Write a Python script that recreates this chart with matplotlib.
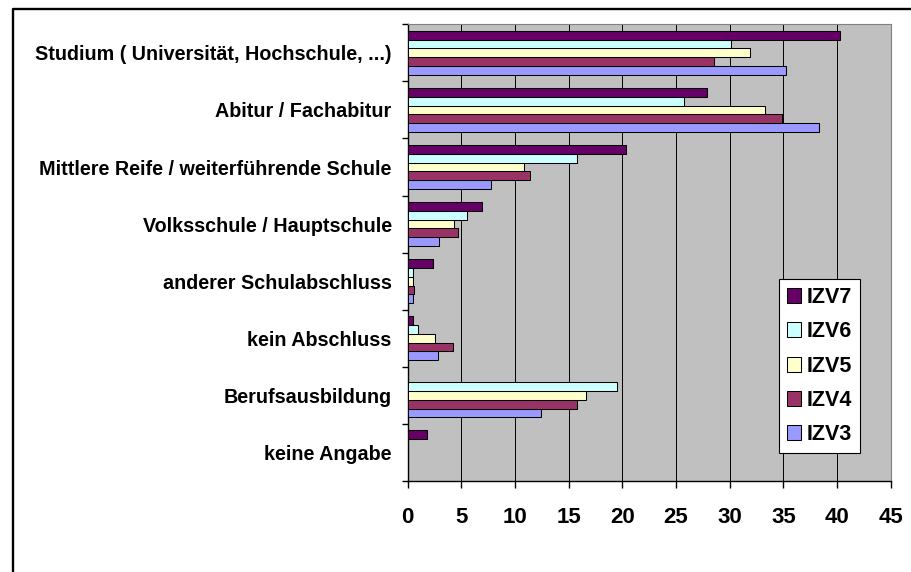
import matplotlib
matplotlib.use('Agg')
import matplotlib.pyplot as plt
from matplotlib.lines import Line2D
import numpy as np

plt.rcParams['font.family'] = ['Liberation Sans', 'DejaVu Sans']
plt.rcParams['font.weight'] = 'bold'

# categories from top to bottom
categories = ['Studium ( Universität, Hochschule, ...)', 'Abitur / Fachabitur',
              'Mittlere Reife / weiterführende Schule', 'Volksschule / Hauptschule',
              'anderer Schulabschluss', 'kein Abschluss', 'Berufsausbildung', 'keine Angabe']
izv7 = [40.3, 27.9, 20.3, 6.9, 2.4, 0.5, 0, 1.8]
izv6 = [30.1, 25.7, 15.8, 5.5, 0.5, 1.0, 19.5, 0]
izv5 = [31.9, 33.3, 10.8, 4.3, 0.5, 2.5, 16.6, 0]
izv4 = [28.5, 34.9, 11.4, 4.7, 0.6, 4.2, 15.8, 0]
izv3 = [35.2, 38.3, 7.8, 2.9, 0.5, 2.8, 12.4, 0]
series_names = ['IZV3', 'IZV4', 'IZV5', 'IZV6', 'IZV7']
series_vals = [izv3, izv4, izv5, izv6, izv7]
colors = ['#9999FF', '#993366', '#FFFFCC', '#CCFFFF', '#660066']
xticks = [0, 5, 10, 15, 20, 25, 30, 35, 40, 45]

W, H = 911, 572
fig = plt.figure(figsize=(W / 100, H / 100), dpi=100)
ax = fig.add_axes([407.7 / W, 1 - 481 / H, (890.7 - 407.7) / W, (481 - 24.3) / H])
ax.set_facecolor('#C0C0C0')

n = len(categories)
ypos = np.arange(n)[::-1]  # top category at the top
h = 1 / 1.3 / 5
bars = []
for j, (name, vals) in enumerate(zip(series_names, series_vals)):
    b = ax.barh(ypos + (j - 2) * h, vals, height=h, color=colors[j],
                edgecolor='black', linewidth=0.75, label=name, zorder=3)
    bars.append(b)

ax.set_xlim(0, 45)
ax.set_ylim(-0.5, n - 0.5)

ax.set_xticks(xticks)
ax.set_xticklabels([str(t) for t in xticks], fontsize=16, fontweight='bold')
ax.tick_params(axis='x', direction='out', length=5, width=1, pad=14, color='black')
ax.xaxis.grid(True, color='black', linewidth=0.7, zorder=1)
ax.set_axisbelow(True)

ax.set_yticks(np.arange(n + 1) - 0.5)
ax.set_yticklabels([])
ax.set_yticks(ypos, minor=True)
ax.set_yticklabels(categories, minor=True, fontsize=14.2, fontweight='bold')
ax.tick_params(axis='y', which='major', direction='out', length=4.3, width=1)
ax.tick_params(axis='y', which='minor', length=0, pad=11.5)

for s in ['top', 'right']:
    ax.spines[s].set_color('#808080')
    ax.spines[s].set_linewidth(0.8)
for s in ['left', 'bottom']:
    ax.spines[s].set_color('black')
    ax.spines[s].set_linewidth(1.0)

handles = bars[::-1]
labels = series_names[::-1]
leg = ax.legend(handles, labels, loc='upper left',
                bbox_to_anchor=(779 / W, 1 - 279.3 / H), bbox_transform=fig.transFigure,
                borderaxespad=0, prop={'weight': 'bold', 'size': 15.5},
                handlelength=0.68, handleheight=0.68, handletextpad=0.25,
                labelspacing=0.62, borderpad=0.36, fancybox=False, framealpha=1)
leg.get_frame().set_edgecolor('black')
leg.get_frame().set_linewidth(0.8)

# chart area frame (only top and left visible)
fig.add_artist(Line2D([12.8 / W, 12.8 / W, 1.02], [-0.02, 1 - 8.7 / H, 1 - 8.7 / H],
                      transform=fig.transFigure, color='black', linewidth=1.7))

fig.savefig('out.png', dpi=100, facecolor='white')
